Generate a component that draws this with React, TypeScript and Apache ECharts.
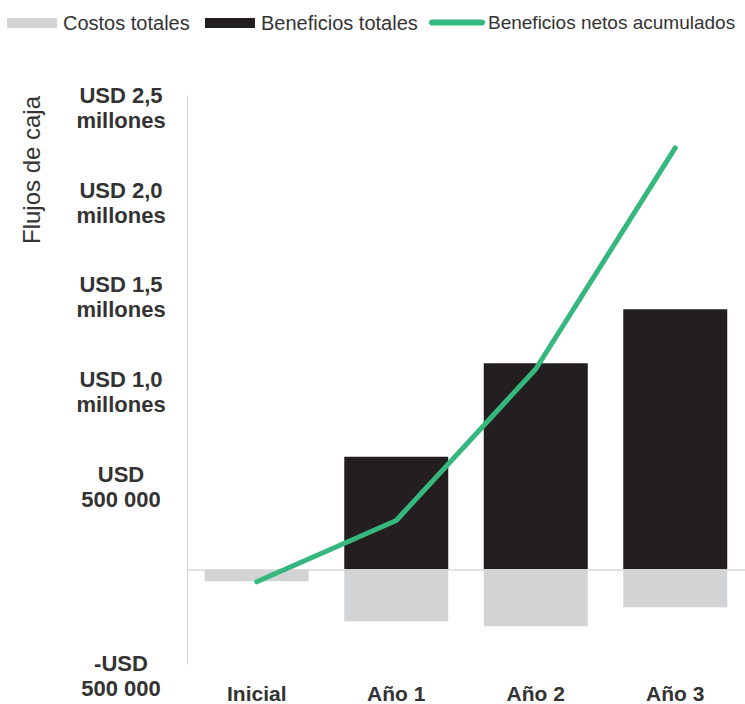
import React, { useEffect, useRef } from "react";
import * as echarts from "echarts";

const categories = ["Inicial", "Año 1", "Año 2", "Año 3"];
const costosTotales = [-63000, -274000, -300000, -200000];
const beneficiosTotales = [0, 595000, 1089000, 1374000];
const beneficiosNetosAcumulados = [-66000, 258000, 1058000, 2226000];

const yMin = -500000;
const yMax = 2500000;
const yInterval = 500000;
const yTickValues = [-500000, 0, 500000, 1000000, 1500000, 2000000, 2500000];
const yTickLabels = [
  "-USD\n500 000",
  "",
  "USD\n500 000",
  "USD 1,0\nmillones",
  "USD 1,5\nmillones",
  "USD 2,0\nmillones",
  "USD 2,5\nmillones",
];

const seriesNames = ["Costos totales", "Beneficios totales", "Beneficios netos acumulados"];
const axisTitle = "Flujos de caja";

const FONT = "'Liberation Sans', Arial, Helvetica, sans-serif";

export default function App() {
  const ref = useRef<HTMLDivElement>(null);

  useEffect(() => {
    if (!ref.current) return;
    const chart = echarts.init(ref.current, undefined, { renderer: "svg" });

    const legendBase = {
      top: 13,
      padding: 0,
      itemWidth: 50,
      itemHeight: 10,
      itemGap: 6,
    };

    const option = {
      animation: false,
      backgroundColor: "#ffffff",
      textStyle: { fontFamily: FONT },
      legend: [
        {
          ...legendBase,
          left: 7,
          textStyle: { fontFamily: FONT, fontSize: 20, color: "#333333", padding: [4, 0, 0, 1] },
          data: [{ name: seriesNames[0], icon: "rect" }],
        },
        {
          ...legendBase,
          left: 205,
          textStyle: { fontFamily: FONT, fontSize: 20, color: "#333333", padding: [4, 0, 0, 1] },
          data: [{ name: seriesNames[1], icon: "rect" }],
        },
        {
          ...legendBase,
          left: 429,
          itemWidth: 56,
          textStyle: { fontFamily: FONT, fontSize: 19, color: "#333333", padding: [4, 0, 0, -2] },
          data: [
            {
              name: seriesNames[2],
              icon: "path://M3,0 H53 A3,3 0 0 1 53,6 H3 A3,3 0 0 1 3,0 Z",
            },
          ],
        },
      ],
      graphic: [
        {
          type: "text",
          x: 31,
          y: 170,
          rotation: Math.PI / 2,
          style: {
            text: axisTitle,
            fontFamily: FONT,
            fontSize: 24,
            fill: "#333333",
            align: "center",
            verticalAlign: "middle",
          },
        },
      ],
      grid: {
        left: 187,
        right: 0,
        top: 96,
        bottom: 38,
        containLabel: false,
      },
      xAxis: {
        type: "category",
        data: categories,
        axisLine: { show: false },
        axisTick: { show: false },
        axisLabel: {
          margin: 19,
          fontFamily: FONT,
          fontSize: 21,
          fontWeight: "bold",
          color: "#333333",
        },
      },
      yAxis: {
        type: "value",
        min: yMin,
        max: yMax,
        interval: yInterval,
        splitLine: { show: false },
        axisTick: { show: false },
        axisLine: { show: true, lineStyle: { color: "#d4d4d4", width: 1.2 } },
        axisLabel: {
          margin: 66,
          align: "center",
          verticalAlign: "middle",
          lineHeight: 25,
          fontFamily: FONT,
          fontSize: 22,
          fontWeight: "bold",
          color: "#333333",
          rich: {
            s: { lineHeight: 24, fontSize: 10 },
          },
          formatter: (v: number) => {
            const i = yTickValues.indexOf(v);
            if (i < 0 || !yTickLabels[i]) return "";
            return "{s| }\n" + yTickLabels[i];
          },
        },
      },
      series: [
        {
          name: seriesNames[0],
          type: "bar",
          stack: "flujos",
          barWidth: 104,
          data: costosTotales,
          itemStyle: { color: "#d1d3d4" },
          markLine: {
            silent: true,
            symbol: "none",
            label: { show: false },
            lineStyle: { color: "#d9d9d9", width: 1.5, type: "solid" },
            data: [{ yAxis: 0 }],
          },
        },
        {
          name: seriesNames[1],
          type: "bar",
          stack: "flujos",
          barWidth: 104,
          data: beneficiosTotales,
          itemStyle: { color: "#231f20" },
        },
        {
          name: seriesNames[2],
          type: "line",
          data: beneficiosNetosAcumulados,
          symbol: "none",
          z: 5,
          itemStyle: { color: "#35b77d" },
          lineStyle: { color: "#35b77d", width: 5, cap: "round", join: "round" },
        },
      ],
    };

    chart.setOption(option as any);
    return () => chart.dispose();
  }, []);

  return (
    <div
      ref={ref}
      style={{ position: "absolute", left: 0, top: 0, width: 745, height: 704 }}
    />
  );
}
